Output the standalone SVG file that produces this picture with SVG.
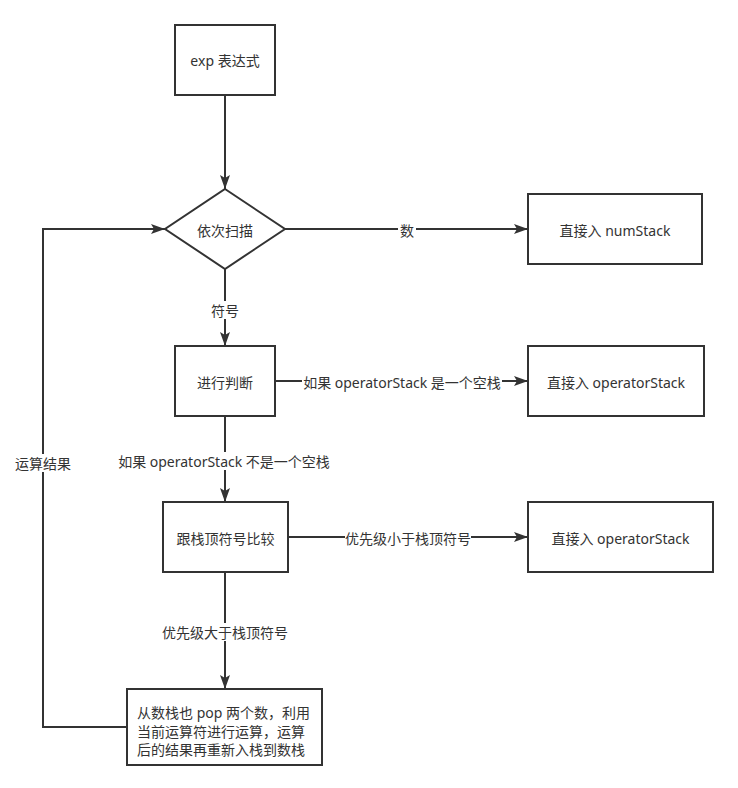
<svg xmlns="http://www.w3.org/2000/svg" width="738" height="788" viewBox="0 0 738 788">
<style>
.n{fill:#fff;stroke:#333;stroke-width:2}
.c{fill:none;stroke:#333;stroke-width:2}
text{font-family:"Noto Sans","Noto Sans CJK SC",sans-serif;font-size:14px;fill:#333;dominant-baseline:central}
.m{text-anchor:middle}
.lb{fill:#fff;stroke:none}
</style>
<defs>
<marker id="arr" markerWidth="14" markerHeight="10" refX="14" refY="5" orient="auto" markerUnits="userSpaceOnUse">
<path d="M0,0 L14,5 L0,10 L3,5 z" fill="#333"/>
</marker>
</defs>
<rect width="738" height="788" fill="#fff"/>
<g id="connectors">
<path class="c" d="M225,95 V189" marker-end="url(#arr)"/>
<path class="c" d="M285,229 H528" marker-end="url(#arr)"/>
<path class="c" d="M225,269 V346" marker-end="url(#arr)"/>
<path class="c" d="M275,381 H528" marker-end="url(#arr)"/>
<path class="c" d="M225,416 V502" marker-end="url(#arr)"/>
<path class="c" d="M288,537 H528" marker-end="url(#arr)"/>
<path class="c" d="M225,572 V689" marker-end="url(#arr)"/>
<path class="c" d="M127,727 H43 V229 H165" marker-end="url(#arr)"/>
<rect class="lb" x="398" y="221" width="18" height="17"/>
<text class="m" x="407" y="230">数</text>
<rect class="lb" x="210" y="301" width="30" height="18"/>
<text class="m" x="225" y="310">符号</text>
<rect class="lb" x="302" y="372" width="200" height="18"/>
<text class="m" x="402" y="382">如果 operatorStack 是一个空栈</text>
<rect class="lb" x="116" y="452" width="216" height="18"/>
<text class="m" x="224" y="461">如果 operatorStack 不是一个空栈</text>
<rect class="lb" x="345" y="529" width="126" height="18"/>
<text class="m" x="408" y="538">优先级小于栈顶符号</text>
<rect class="lb" x="161" y="623" width="130" height="18"/>
<text class="m" x="225" y="632">优先级大于栈顶符号</text>
<rect class="lb" x="14" y="454" width="59" height="18"/>
<text class="m" x="43" y="463">运算结果</text>
</g>
<g id="exp">
<rect class="n" x="175" y="25" width="100" height="70"/>
<text class="m" x="225" y="60">exp 表达式</text>
</g>
<g id="scan">
<path class="n" d="M225,189 L285,229 L225,269 L165,229 Z"/>
<text class="m" x="225" y="230">依次扫描</text>
</g>
<g id="numStack">
<rect class="n" x="528" y="194" width="174" height="70"/>
<text class="m" x="615" y="230">直接入 numStack</text>
</g>
<g id="judge">
<rect class="n" x="175" y="346" width="100" height="70"/>
<text class="m" x="225" y="382">进行判断</text>
</g>
<g id="opStack1">
<rect class="n" x="528" y="346" width="176" height="70"/>
<text class="m" x="616" y="382">直接入 operatorStack</text>
</g>
<g id="compare">
<rect class="n" x="163" y="502" width="125" height="70"/>
<text class="m" x="225.500" y="538">跟栈顶符号比较</text>
</g>
<g id="opStack2">
<rect class="n" x="528" y="502" width="185" height="70"/>
<text class="m" x="620.500" y="538">直接入 operatorStack</text>
</g>
<g id="calc">
<rect class="n" x="127" y="689" width="195" height="76"/>
<text x="137" y="712">从数栈也 pop 两个数，利用</text>
<text x="137" y="731">当前运算符进行运算，运算</text>
<text x="137" y="749">后的结果再重新入栈到数栈</text>
</g>
</svg>
